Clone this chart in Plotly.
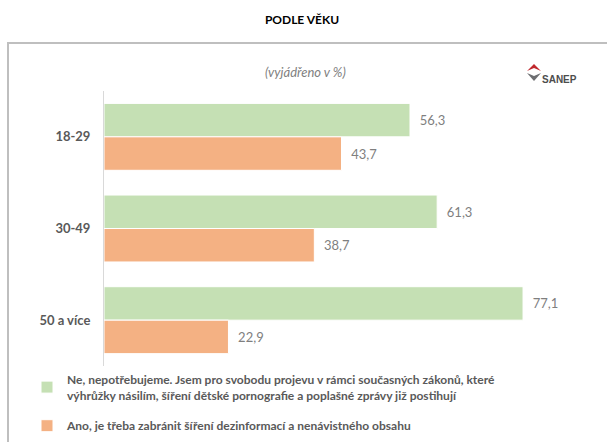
import plotly.graph_objects as go

# data
age_groups = ["18-29", "30-49", "50 a více"]
no_values = [56.3, 61.3, 77.1]
yes_values = [43.7, 38.7, 22.9]
no_label = ("Ne, nepotřebujeme. Jsem pro svobodu projevu v rámci současných zákonů, které"
            "<br>výhrůžky násilím, šíření dětské pornografie a poplašné zprávy již postihují")
yes_label = "Ano, je třeba zabránit šíření dezinformací a nenávistného obsahu"

GREEN = "#C5E0B4"
ORANGE = "#F4B183"
GREY_TEXT = "#7F7F7F"
DARK_TEXT = "#595959"
FONT = "Lato, 'Open Sans', sans-serif"

W, H = 607, 442
L, R, T, B = 104, 30, 91, 76
plot_w = W - L - R
plot_h = H - T - B


def px_x(px):
    return (px - L) / plot_w


def px_y(py):
    return (H - B - py) / plot_h


fig = go.Figure()
fig.add_trace(go.Bar(
    y=age_groups, x=no_values, orientation="h", name="<b>%s</b>" % no_label,
    legendgroup="no",
    marker=dict(color=GREEN, line=dict(color="white", width=1)),
    text=no_values, texttemplate="  %{x:.1f}", textposition="outside",
    textfont=dict(color=GREY_TEXT, size=13, family=FONT), cliponaxis=False,
))
fig.add_trace(go.Bar(
    y=age_groups, x=yes_values, orientation="h", name="<b>%s</b>" % yes_label,
    legendgroup="yes",
    marker=dict(color=ORANGE, line=dict(color="white", width=1)),
    text=yes_values, texttemplate="  %{x:.1f}", textposition="outside",
    textfont=dict(color=GREY_TEXT, size=13, family=FONT), cliponaxis=False,
))

fig.update_layout(
    width=W, height=H,
    margin=dict(l=L, r=R, t=T, b=B, autoexpand=False),
    paper_bgcolor="white", plot_bgcolor="white",
    separators=", ",
    barmode="group", bargap=0.27, bargroupgap=0,
    font=dict(family=FONT, color=DARK_TEXT),
    title=dict(text="<b>PODLE VĚKU</b>", x=302 / W, xanchor="center",
               y=1 - 20 / H, yanchor="middle",
               font=dict(size=12, color="#000000", family=FONT)),
    showlegend=True,
    legend=dict(orientation="v", x=px_x(27), xanchor="left", y=px_y(365), yanchor="top",
                font=dict(size=12, color=DARK_TEXT, family=FONT),
                traceorder="grouped", tracegroupgap=12, itemwidth=30,
                bgcolor="rgba(0,0,0,0)"),
)
fig.update_xaxes(range=[0, plot_w / 5.435], visible=False)
fig.update_yaxes(autorange="reversed", showline=True, linecolor="#D9D9D9", linewidth=1,
                 showgrid=False, ticks="", ticklabelstandoff=10, automargin=False,
                 tickfont=dict(size=13, color=DARK_TEXT, family=FONT))
fig.update_yaxes(ticktext=["<b>%s</b>" % g for g in age_groups], tickvals=age_groups)

# frame around the chart area
fig.add_shape(type="rect", xref="paper", yref="paper",
              x0=px_x(8), x1=px_x(640), y0=px_y(470), y1=px_y(43),
              line=dict(color="#BFBFBF", width=2), fillcolor="rgba(0,0,0,0)", layer="below")

fig.add_annotation(text="<i>(vyjádřeno v %)</i>", xref="paper", yref="paper",
                   x=px_x(305), y=px_y(62), showarrow=False,
                   font=dict(size=13, color=GREY_TEXT, family=FONT))

# SANEP logo
fig.add_shape(type="path", xref="paper", yref="paper",
              path="M %f %f L %f %f L %f %f L %f %f Z" % (
                  px_x(527), px_y(71), px_x(534), px_y(64), px_x(541), px_y(71), px_x(534), px_y(68)),
              fillcolor="#C0282D", line=dict(width=0))
fig.add_shape(type="path", xref="paper", yref="paper",
              path="M %f %f L %f %f L %f %f L %f %f Z" % (
                  px_x(527), px_y(73), px_x(534), px_y(76), px_x(541), px_y(73), px_x(534), px_y(81)),
              fillcolor="#6D6E71", line=dict(width=0))
fig.add_annotation(text="<b>SANEP</b>", xref="paper", yref="paper",
                   x=px_x(540), y=px_y(72), xanchor="left", showarrow=False,
                   font=dict(size=10, color="#4D4D4D", family="'Liberation Sans Narrow', Arial, sans-serif"))

# drop the browser's default body margin so the figure sits at the page origin
fig.write_html("out.html", config={"displayModeBar": False},
               post_script="document.body.style.margin = '0';")
